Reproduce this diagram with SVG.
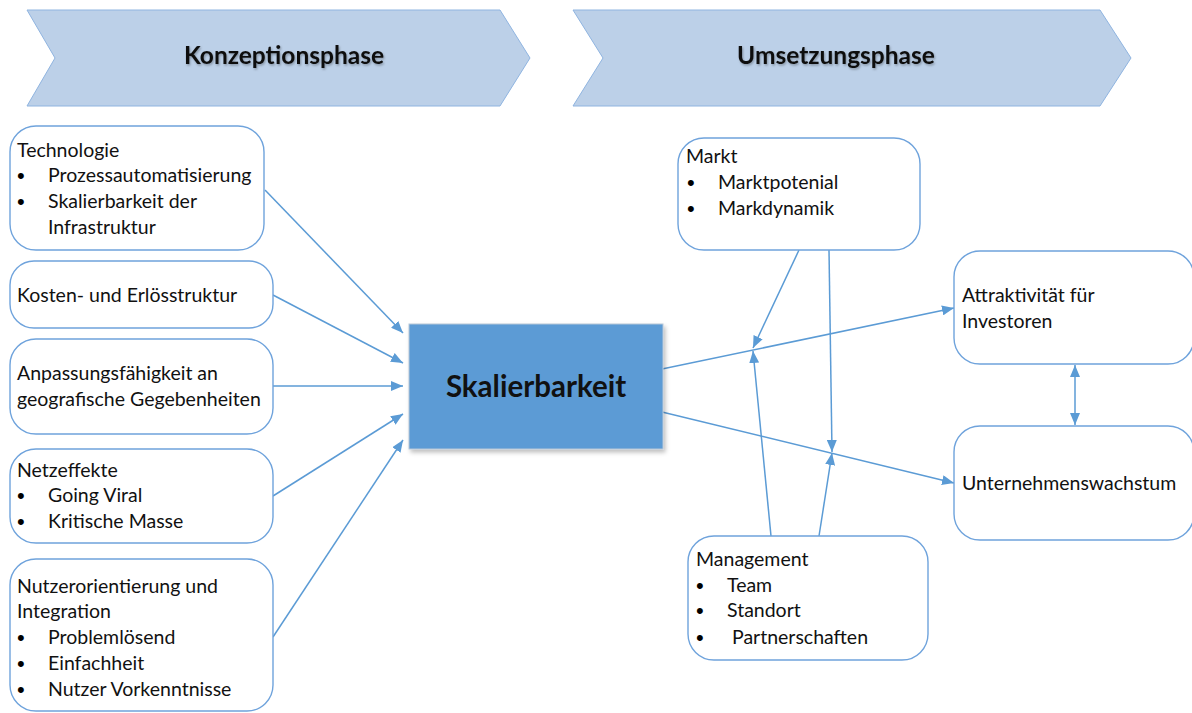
<svg xmlns="http://www.w3.org/2000/svg" width="1192" height="713" viewBox="0 0 1192 713">
  <defs>
    <style>
      .chev { fill: #bcd0e8; stroke: #8fb4e0; stroke-width: 1; }
      .box { fill: #ffffff; stroke: #6fa3dc; stroke-width: 1.4; }
      .core { fill: #5b9bd5; stroke: #b8c7d8; stroke-width: 1; }
      .t { font-family: Lato, "Liberation Sans", sans-serif; font-size: 19.5px; fill: #111111; }
      .b { font-family: "Liberation Sans", sans-serif; font-size: 22px; fill: #000000; }
      .phase { font-family: Lato, "Liberation Sans", sans-serif; font-size: 24.5px; font-weight: bold; fill: #111111; }
      .big { font-family: Lato, "Liberation Sans", sans-serif; font-size: 29.5px; font-weight: bold; fill: #111111; }
      .edge { fill: none; stroke: #5b9bd5; stroke-width: 1.5; }
    </style>
    <marker id="arr" viewBox="0 0 12 10" refX="12" refY="5" markerWidth="12" markerHeight="10" markerUnits="userSpaceOnUse" orient="auto-start-reverse">
      <path d="M0,0 L12,5 L0,10 Z" fill="#5b9bd5"/>
    </marker>
    <filter id="shadow" x="-10%" y="-10%" width="125%" height="130%">
      <feDropShadow dx="2" dy="3" stdDeviation="2" flood-color="#000000" flood-opacity="0.25"/>
    </filter>
    <filter id="glow" x="-10%" y="-30%" width="120%" height="160%">
      <feDropShadow dx="1" dy="1.5" stdDeviation="1.2" flood-color="#000000" flood-opacity="0.3"/>
    </filter>
  </defs>

  <!-- phase banners -->
  <g id="phase-konzeption">
    <polygon class="chev" points="27,10 500,10 530,58 500,106 27,106 55,58"/>
    <text class="phase" x="284" y="64" text-anchor="middle" filter="url(#glow)">Konzeptionsphase</text>
  </g>
  <g id="phase-umsetzung">
    <polygon class="chev" points="573,10 1100,10 1131,58 1100,106 573,106 603,58"/>
    <text class="phase" x="836" y="64" text-anchor="middle" filter="url(#glow)">Umsetzungsphase</text>
  </g>

  <!-- connectors -->
  <g id="connectors">
    <line class="edge" x1="265" y1="190" x2="403" y2="333" marker-end="url(#arr)"/>
    <line class="edge" x1="273" y1="295" x2="403" y2="363" marker-end="url(#arr)"/>
    <line class="edge" x1="273" y1="386" x2="403" y2="386" marker-end="url(#arr)"/>
    <line class="edge" x1="273" y1="496" x2="403" y2="414" marker-end="url(#arr)"/>
    <line class="edge" x1="273" y1="637" x2="403" y2="440" marker-end="url(#arr)"/>

    <line class="edge" x1="662" y1="369" x2="954" y2="308" marker-end="url(#arr)"/>
    <line class="edge" x1="662" y1="412" x2="954" y2="483" marker-end="url(#arr)"/>

    <line class="edge" x1="799" y1="250" x2="753" y2="348" marker-end="url(#arr)"/>
    <line class="edge" x1="829" y1="250" x2="832" y2="452" marker-end="url(#arr)"/>
    <line class="edge" x1="771" y1="536" x2="753" y2="351" marker-end="url(#arr)"/>
    <line class="edge" x1="819" y1="536" x2="832" y2="453" marker-end="url(#arr)"/>

    <line class="edge" x1="1075" y1="365" x2="1075" y2="425" marker-start="url(#arr)" marker-end="url(#arr)"/>
  </g>

  <!-- left-hand factors -->
  <g id="technologie">
    <rect class="box" x="10" y="126" width="254" height="124" rx="26"/>
    <text class="t" x="17" y="157">Technologie</text>
    <text class="b" x="17" y="183">•</text>
    <text class="t" x="48" y="182">Prozessautomatisierung</text>
    <text class="b" x="17" y="209">•</text>
    <text class="t" x="48" y="208">Skalierbarkeit der</text>
    <text class="t" x="48" y="234">Infrastruktur</text>
  </g>
  <g id="kosten">
    <rect class="box" x="10" y="261" width="263" height="67" rx="24"/>
    <text class="t" x="17" y="302">Kosten- und Erlösstruktur</text>
  </g>
  <g id="anpassung">
    <rect class="box" x="10" y="339" width="263" height="95" rx="26"/>
    <text class="t" x="17" y="380">Anpassungsfähigkeit an</text>
    <text class="t" x="17" y="406">geografische Gegebenheiten</text>
  </g>
  <g id="netzeffekte">
    <rect class="box" x="10" y="449" width="263" height="94" rx="26"/>
    <text class="t" x="17" y="477">Netzeffekte</text>
    <text class="b" x="17" y="503">•</text>
    <text class="t" x="48" y="502">Going Viral</text>
    <text class="b" x="17" y="529">•</text>
    <text class="t" x="48" y="528">Kritische Masse</text>
  </g>
  <g id="nutzerorientierung">
    <rect class="box" x="10" y="559" width="263" height="152" rx="26"/>
    <text class="t" x="17" y="593">Nutzerorientierung und</text>
    <text class="t" x="17" y="618">Integration</text>
    <text class="b" x="17" y="645">•</text>
    <text class="t" x="48" y="644">Problemlösend</text>
    <text class="b" x="17" y="671">•</text>
    <text class="t" x="48" y="670">Einfachheit</text>
    <text class="b" x="17" y="697">•</text>
    <text class="t" x="48" y="696">Nutzer Vorkenntnisse</text>
  </g>

  <!-- central node -->
  <g id="skalierbarkeit">
    <rect class="core" x="409" y="324" width="254" height="125" filter="url(#shadow)"/>
    <text class="big" x="536" y="397" text-anchor="middle">Skalierbarkeit</text>
  </g>

  <!-- right-hand factors and outcomes -->
  <g id="markt">
    <rect class="box" x="678" y="138" width="242" height="112" rx="26"/>
    <text class="t" x="686" y="163">Markt</text>
    <text class="b" x="687" y="190">•</text>
    <text class="t" x="718" y="189">Marktpotenial</text>
    <text class="b" x="687" y="216">•</text>
    <text class="t" x="718" y="215">Markdynamik</text>
  </g>
  <g id="management">
    <rect class="box" x="688" y="536" width="240" height="124" rx="26"/>
    <text class="t" x="696" y="566">Management</text>
    <text class="b" x="696" y="593">•</text>
    <text class="t" x="727" y="592">Team</text>
    <text class="b" x="696" y="618">•</text>
    <text class="t" x="727" y="617">Standort</text>
    <text class="b" x="696" y="645">•</text>
    <text class="t" x="732" y="644">Partnerschaften</text>
  </g>
  <g id="attraktivitaet">
    <rect class="box" x="954" y="251" width="240" height="113" rx="26"/>
    <text class="t" x="962" y="302">Attraktivität für</text>
    <text class="t" x="962" y="328">Investoren</text>
  </g>
  <g id="wachstum">
    <rect class="box" x="954" y="426" width="240" height="114" rx="26"/>
    <text class="t" x="962" y="490">Unternehmenswachstum</text>
  </g>
</svg>
